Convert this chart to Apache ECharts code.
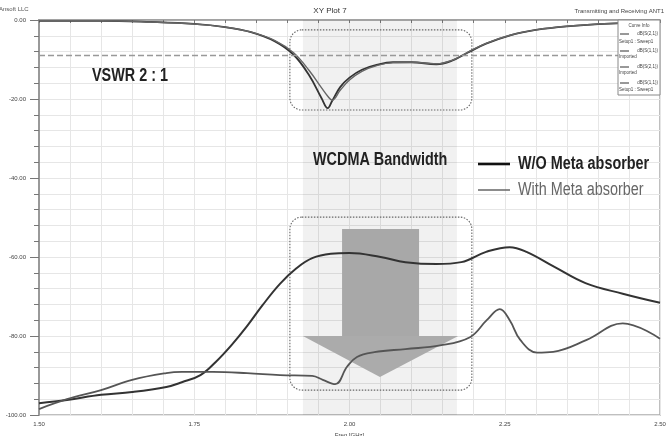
<!DOCTYPE html>
<html>
<head>
<meta charset="utf-8">
<script src="https://cdn.jsdelivr.net/npm/echarts@6/dist/echarts.min.js"></script>
<style>
  html, body { margin: 0; padding: 0; background: #fff; }
  #chart { width: 671px; height: 436px; }
</style>
</head>
<body>
<div id="chart"></div>
<script>
// return loss, dB(S(1,1))
var s11Freq = [1.50, 1.60, 1.68, 1.75, 1.80, 1.84, 1.88, 1.91, 1.935, 1.955, 1.965, 1.972, 1.985, 2.00, 2.02, 2.045, 2.07, 2.10, 2.14, 2.165, 2.19, 2.22, 2.26, 2.30, 2.35, 2.42, 2.50];
var s11WithoutMeta = [-0.2, -0.2, -0.5, -1.0, -1.8, -3.0, -5.4, -8.8, -14.0, -19.8, -22.3, -20.5, -17.0, -14.6, -12.6, -11.3, -10.7, -10.7, -11.2, -10.3, -8.3, -6.0, -3.8, -2.5, -1.6, -0.9, -0.5];
var s11WithMeta = [-0.2, -0.2, -0.5, -1.0, -1.8, -3.0, -5.2, -8.3, -12.8, -17.2, -19.3, -20.3, -17.8, -15.2, -13.0, -11.5, -10.8, -10.7, -11.1, -10.2, -8.2, -5.9, -3.8, -2.5, -1.6, -0.9, -0.5];

// coupling, dB(S(2,1))
var s21FreqWithout = [1.50, 1.545, 1.60, 1.65, 1.705, 1.73, 1.76, 1.785, 1.81, 1.835, 1.86, 1.888, 1.915, 1.94, 1.97, 2.00, 2.05, 2.09, 2.14, 2.18, 2.22, 2.258, 2.285, 2.33, 2.38, 2.44, 2.50];
var s21WithoutMeta = [-97.0, -96.2, -94.9, -94.2, -92.9, -91.7, -89.9, -86.5, -82.3, -77.5, -72.2, -66.8, -62.8, -60.3, -59.2, -59.0, -60.0, -61.3, -61.8, -61.3, -58.7, -57.5, -58.7, -62.5, -66.6, -69.3, -71.6];
var s21FreqWith = [1.50, 1.545, 1.60, 1.65, 1.705, 1.73, 1.78, 1.835, 1.888, 1.94, 1.957, 1.977, 1.996, 2.012, 2.04, 2.09, 2.146, 2.194, 2.221, 2.242, 2.258, 2.275, 2.302, 2.328, 2.382, 2.44, 2.50];
var s21WithMeta = [-98.5, -96.0, -93.7, -91.1, -89.4, -89.1, -89.1, -89.4, -89.9, -90.1, -91.1, -92.2, -87.8, -85.3, -84.1, -83.3, -82.4, -80.3, -76.0, -73.2, -76.0, -81.0, -84.2, -84.0, -81.0, -76.8, -80.7];

var vswrLevel = -9.0;         // VSWR 2:1
var wcdmaBand = [1.925, 2.173];

function pairs(xs, ys) {
  return xs.map(function (x, i) { return [x, ys[i]]; });
}

var chart = echarts.init(document.getElementById('chart'));

var axisText = { color: '#444', fontSize: 6, fontFamily: 'Liberation Sans' };

var option = {
  animation: false,
  backgroundColor: '#fff',
  grid: {
    left: 39, right: 11, top: 20, bottom: 21,
    outerBoundsMode: 'none',
    show: true, borderColor: '#aaa', borderWidth: 1.5
  },
  xAxis: {
    type: 'value',
    min: 1.5, max: 2.5, interval: 0.25,
    name: 'Freq [GHz]', nameLocation: 'middle', nameGap: 13,
    nameTextStyle: axisText,
    axisLine: { lineStyle: { color: '#999', width: 1.5 } },
    axisTick: { length: 3, lineStyle: { color: '#777' } },
    minorTick: { show: true, splitNumber: 5, length: 3, lineStyle: { color: '#777' } },
    axisLabel: Object.assign({ margin: 6, formatter: function (v) { return v.toFixed(2); } }, axisText),
    splitLine: { lineStyle: { color: '#e6e6e6' } },
    minorSplitLine: { show: true, lineStyle: { color: '#e6e6e6' } }
  },
  yAxis: {
    type: 'value',
    min: -100, max: 0, interval: 20,
    name: 'Y1', nameLocation: 'middle', nameGap: 33, nameRotate: 90,
    nameTextStyle: axisText,
    axisLine: { show: true, lineStyle: { color: '#999', width: 2 } },
    axisTick: { show: true, length: 9, lineStyle: { color: '#777' } },
    minorTick: { show: true, splitNumber: 5, length: 5, lineStyle: { color: '#777' } },
    axisLabel: Object.assign({ margin: 13, formatter: function (v) { return v.toFixed(2); } }, axisText),
    splitLine: { lineStyle: { color: '#e6e6e6' } },
    minorSplitLine: { show: true, lineStyle: { color: '#e6e6e6' } }
  },
  series: [
    {
      name: 'S11 W/O', type: 'line', showSymbol: false, smooth: 0.4,
      data: pairs(s11Freq, s11WithoutMeta),
      lineStyle: { color: '#333', width: 1.8 },
      markArea: {
        silent: true,
        itemStyle: { color: 'rgba(0,0,0,0.055)' },
        data: [[{ xAxis: wcdmaBand[0] }, { xAxis: wcdmaBand[1] }]]
      },
      markLine: {
        silent: true, symbol: ['none', 'none'], label: { show: false },
        lineStyle: { color: '#999', type: [6, 3], width: 1.3 },
        data: [{ yAxis: vswrLevel }]
      }
    },
    {
      name: 'S11 With', type: 'line', showSymbol: false, smooth: 0.4,
      data: pairs(s11Freq, s11WithMeta),
      lineStyle: { color: '#666', width: 1.4 }
    },
    {
      name: 'S21 W/O', type: 'line', showSymbol: false, smooth: 0.4,
      data: pairs(s21FreqWithout, s21WithoutMeta),
      lineStyle: { color: '#333', width: 2 }
    },
    {
      name: 'S21 With', type: 'line', showSymbol: false, smooth: 0.4,
      data: pairs(s21FreqWith, s21WithMeta),
      lineStyle: { color: '#555', width: 1.8 }
    }
  ]
};
chart.setOption(option);

function px(f, db) { return chart.convertToPixel({ gridIndex: 0 }, [f, db]); }

function box(a, b) {
  var p1 = px(a[0], a[1]), p2 = px(b[0], b[1]);
  return {
    type: 'rect', z: 3, silent: true,
    shape: { x: p1[0], y: p1[1], width: p2[0] - p1[0], height: p2[1] - p1[1], r: 12 },
    style: { fill: 'none', stroke: '#666', lineWidth: 1.1, lineDash: [1.5, 1.5] }
  };
}

var shaftA = px(1.988, -52.9), shaftB = px(2.112, -80);
var headL = px(1.925, -80), headR = px(2.175, -80), headT = px(2.049, -90.4);

var bigText = { fontFamily: 'Liberation Sans', fontSize: 18, fontWeight: 'bold', fill: '#222' };
var tiny = { fontFamily: 'Liberation Sans', fontSize: 4.5, fill: '#444' };

function tinyText(t, x, y, align) {
  return { type: 'text', z: 11, x: x, y: y, style: Object.assign({ text: t, align: align || 'left', verticalAlign: 'middle' }, tiny) };
}
function tinyLine(y) {
  return { type: 'line', z: 11, shape: { x1: 620, y1: y, x2: 629, y2: y }, style: { stroke: '#333', lineWidth: 1 } };
}

chart.setOption({
  graphic: [
    // arrow (below curves)
    { type: 'rect', z: 1, silent: true,
      shape: { x: shaftA[0], y: shaftA[1], width: shaftB[0] - shaftA[0], height: shaftB[1] - shaftA[1] },
      style: { fill: '#a8a8a8' } },
    { type: 'polygon', z: 1, silent: true,
      shape: { points: [headL, headR, headT] },
      style: { fill: '#ababab' } },
    box([1.904, -2.5], [2.197, -22.8]),
    box([1.904, -49.9], [2.197, -93.7]),

    // header texts
    { type: 'text', x: -1, y: 9, style: { text: 'Ansoft LLC', fontSize: 6, fontFamily: 'Liberation Sans', fill: '#555', verticalAlign: 'middle' } },
    { type: 'text', x: 330, y: 11, style: { text: 'XY Plot 7', fontSize: 8, fontFamily: 'Liberation Sans', fill: '#333', align: 'center', verticalAlign: 'middle' } },
    { type: 'text', x: 664, y: 11, style: { text: 'Transmitting and Receiving ANT1', fontSize: 6, fontFamily: 'Liberation Sans', fill: '#444', align: 'right', verticalAlign: 'middle' } },

    // annotations
    { type: 'text', z: 5, x: 92, y: 76, scaleX: 0.8, style: Object.assign({ text: 'VSWR 2 : 1', verticalAlign: 'middle' }, bigText) },
    { type: 'text', z: 5, x: 313, y: 160, scaleX: 0.8, style: Object.assign({ text: 'WCDMA Bandwidth', verticalAlign: 'middle' }, bigText) },

    // in-plot legend
    { type: 'line', z: 5, shape: { x1: 478, y1: 164, x2: 510, y2: 164 }, style: { stroke: '#111', lineWidth: 2.6 } },
    { type: 'text', z: 5, x: 518, y: 164, scaleX: 0.8, style: Object.assign({ text: 'W/O Meta absorber', verticalAlign: 'middle' }, bigText) },
    { type: 'line', z: 5, shape: { x1: 478, y1: 190, x2: 510, y2: 190 }, style: { stroke: '#666', lineWidth: 1.5 } },
    { type: 'text', z: 5, x: 518, y: 190, scaleX: 0.8, style: { text: 'With Meta absorber', verticalAlign: 'middle', fontFamily: 'Liberation Sans', fontSize: 18, fill: '#666' } },

    // curve info box
    { type: 'rect', z: 10, shape: { x: 618, y: 20, width: 42, height: 75 }, style: { fill: '#fff', stroke: '#888', lineWidth: 1 } },
    tinyText('Curve Info', 639, 25.5, 'center'),
    tinyLine(34), tinyText('dB(S(2,1))', 658, 34, 'right'),
    tinyText('Setup1 : Sweep1', 619, 42),
    tinyLine(51), tinyText('dB(S(1,1))', 658, 51, 'right'),
    tinyText('Imported', 619, 57),
    tinyLine(67), tinyText('dB(S(2,1))', 658, 67, 'right'),
    tinyText('Imported', 619, 73),
    tinyLine(83), tinyText('dB(S(1,1))', 658, 83, 'right'),
    tinyText('Setup1 : Sweep1', 619, 90)
  ]
});
</script>
</body>
</html>
